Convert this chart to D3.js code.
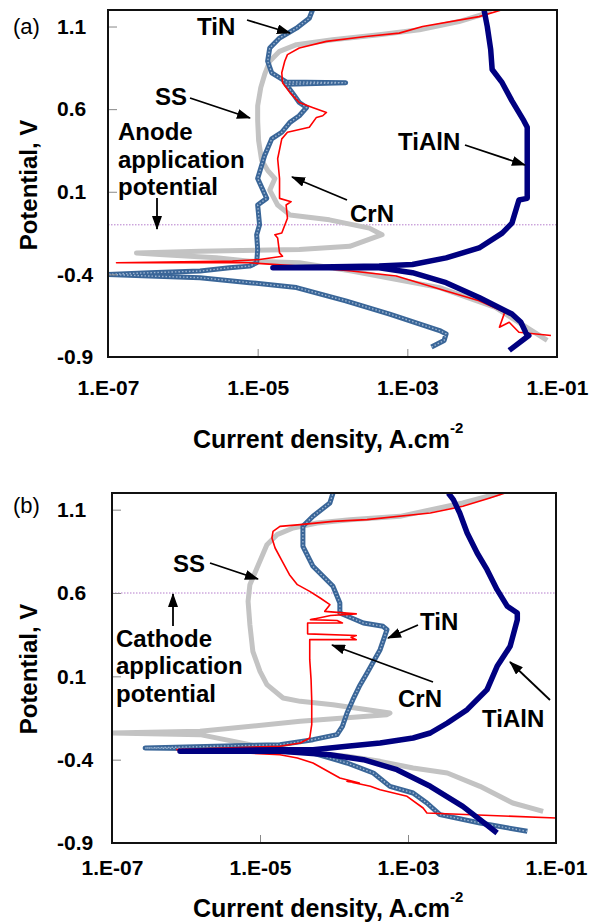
<!DOCTYPE html>
<html>
<head>
<meta charset="utf-8">
<script src="https://cdn.jsdelivr.net/npm/d3@7"></script>
<style>
body { margin: 0; background: #fff; }
svg text { font-family: "Liberation Sans", Arial, sans-serif; }
</style>
</head>
<body>
<svg id="chart" width="596" height="922"></svg>
<script>
// axis values
var xTicks = [1e-7, 1e-5, 1e-3, 1e-1];
var xTickLabels = ["1.E-07", "1.E-05", "1.E-03", "1.E-01"];
var yTicks = [-0.9, -0.4, 0.1, 0.6, 1.1];
var anodeE = -0.1;   // anode application potential, V
var cathodeE = 0.6;  // cathode application potential, V

// (a) curves: [current density A/cm2, potential V]
var ssA = [[7.4e-2,-0.80],[4.6e-2,-0.74],[1.5e-2,-0.60],[2.7e-3,-0.48],[1.8e-4,-0.38],[3.6e-5,-0.33],[7.8e-6,-0.32],
  [2.8e-6,-0.30],[4.9e-7,-0.28],[2.4e-7,-0.27],[1.7e-6,-0.26],[3.6e-5,-0.25],[1.7e-4,-0.23],[4.6e-4,-0.16],[3.1e-4,-0.12],
  [9.1e-5,-0.07],[2.7e-5,-0.04],[1.85e-5,0.02],[1.45e-5,0.11],[1.7e-5,0.18],[1.36e-5,0.23],[1.13e-5,0.29],[1.03e-5,0.41],
  [1.0e-5,0.53],[1.0e-5,0.62],[1.1e-5,0.73],[1.24e-5,0.81],[1.45e-5,0.89],[1.96e-5,0.95],[3.3e-5,0.99],[1.0e-4,1.02],
  [4.2e-4,1.05],[1.45e-3,1.08],[4.9e-3,1.13],[1.13e-2,1.18],[1.3e-2,1.2]];
var tinA = [[2.1e-3,-0.84],[3.1e-3,-0.80],[3.3e-3,-0.76],[2.7e-3,-0.74],[5.8e-4,-0.64],[1.5e-4,-0.56],[3.3e-5,-0.48],
  [7.8e-6,-0.45],[1.7e-6,-0.42],[3.6e-7,-0.41],[1.0e-7,-0.40],[3.6e-7,-0.39],[1.7e-6,-0.38],[4.2e-6,-0.36],[7.8e-6,-0.35],
  [9.7e-6,-0.33],[1.0e-5,-0.25],[9.7e-6,-0.16],[1.06e-5,-0.10],[1.0e-5,0.02],[1.32e-5,0.06],[1.0e-5,0.18],[1.24e-5,0.32],
  [1.54e-5,0.42],[2.1e-5,0.46],[2.7e-5,0.52],[3.6e-5,0.56],[4.5e-5,0.61],[3.6e-5,0.64],[2.9e-5,0.70],[2.4e-5,0.75],
  [1.5e-4,0.76],[2.4e-5,0.765],[1.96e-5,0.79],[1.54e-5,0.82],[1.36e-5,0.89],[1.45e-5,0.97],[1.96e-5,1.03],[3.3e-5,1.09],
  [4.9e-5,1.15],[5.4e-5,1.2]];
var crnA = [[8.3e-2,-0.77],[3.1e-2,-0.75],[2.3e-2,-0.69],[1.7e-2,-0.72],[2.0e-2,-0.63],[9.1e-3,-0.56],[3.3e-3,-0.50],
  [7.1e-4,-0.41],[1.8e-4,-0.38],[3.6e-5,-0.35],[7.8e-6,-0.33],[1.3e-7,-0.33],[4.6e-6,-0.32],[1.06e-5,-0.31],[2.15e-5,-0.29],
  [1.96e-5,-0.27],[1.85e-5,-0.18],[1.7e-5,-0.16],[2.1e-5,-0.15],[2.5e-5,-0.06],[2.4e-5,0.02],[2.8e-5,0.04],[1.96e-5,0.06],
  [1.96e-5,0.18],[1.85e-5,0.30],[2.1e-5,0.42],[2.5e-5,0.46],[4.9e-5,0.49],[6.1e-5,0.55],[7.4e-5,0.56],[8.3e-5,0.58],
  [5.4e-5,0.61],[3.6e-5,0.64],[2.7e-5,0.70],[2.15e-5,0.76],[2.1e-5,0.82],[2.3e-5,0.89],[2.5e-5,0.93],[3.6e-5,0.97],
  [8.3e-5,1.01],[2.8e-4,1.04],[7.8e-4,1.06],[1.6e-3,1.10],[9.1e-3,1.16],[1.8e-2,1.2]];
var tialnA = [[2.3e-2,-0.86],[4.2e-2,-0.77],[3.9e-2,-0.76],[3.3e-2,-0.69],[2.5e-2,-0.64],[9.1e-3,-0.54],[3.3e-3,-0.45],
  [1.17e-3,-0.39],[4.2e-4,-0.36],[1.6e-5,-0.36],[4.2e-4,-0.35],[1.17e-3,-0.34],[3.3e-3,-0.30],[9.1e-3,-0.24],[1.85e-2,-0.15],
  [2.5e-2,-0.09],[3.1e-2,0.05],[4.0e-2,0.06],[4.0e-2,0.15],[4.0e-2,0.49],[3.6e-2,0.53],[2.5e-2,0.65],[1.85e-2,0.76],
  [1.36e-2,0.84],[1.3e-2,0.96],[1.17e-2,1.10],[1.06e-2,1.2]];

// (b) curves
var ssB = [[6.7e-2,-0.71],[2.6e-2,-0.66],[9.4e-3,-0.56],[3.4e-3,-0.48],[1.17e-3,-0.45],[4.2e-4,-0.41],[1.5e-4,-0.38],
  [5.2e-5,-0.36],[1.86e-5,-0.35],[7.3e-6,-0.31],[1.55e-6,-0.25],[1.0e-7,-0.24],[1.55e-6,-0.23],[3.5e-5,-0.17],[5.2e-4,-0.13],
  [5.7e-4,-0.12],[9.7e-5,-0.07],[3.5e-5,-0.05],[2.05e-5,-0.03],[1.24e-5,0.05],[1.0e-5,0.13],[8.0e-6,0.25],[7.3e-6,0.41],
  [6.9e-6,0.55],[7.3e-6,0.65],[9.1e-6,0.75],[1.24e-5,0.89],[1.7e-5,0.95],[2.8e-5,0.99],[5.9e-5,1.02],[1.64e-4,1.04],
  [7.8e-4,1.06],[5.5e-3,1.14],[1.75e-2,1.2]];
var tinB = [[4.1e-2,-0.83],[9.4e-3,-0.78],[2.7e-3,-0.73],[1.8e-3,-0.66],[1.17e-3,-0.60],[5.7e-4,-0.56],[3.4e-4,-0.48],
  [1.5e-4,-0.42],[5.2e-5,-0.36],[1.86e-5,-0.34],[2.8e-7,-0.33],[1.86e-5,-0.31],[5.2e-5,-0.28],[1.1e-4,-0.25],[1.3e-4,-0.20],
  [1.5e-4,-0.12],[1.8e-4,-0.04],[2.2e-4,0.04],[2.8e-4,0.12],[4.2e-4,0.26],[5.2e-4,0.38],[4.6e-4,0.40],[2.5e-4,0.42],
  [1.2e-4,0.48],[1.2e-4,0.54],[9.7e-5,0.64],[5.2e-5,0.76],[3.8e-5,0.88],[3.8e-5,1.00],[5.2e-5,1.06],[8.8e-5,1.14],[9.7e-5,1.2]];
var crnB = [[1.0e-1,-0.75],[1.8e-3,-0.72],[1.6e-3,-0.69],[9.7e-4,-0.62],[4.2e-4,-0.58],[3.1e-4,-0.56],[1.5e-4,-0.53],
  [2.2e-4,-0.54],[1.2e-4,-0.51],[5.2e-5,-0.42],[3.2e-5,-0.39],[1.86e-5,-0.37],[7.5e-7,-0.34],[1.86e-5,-0.32],[3.5e-5,-0.30],
  [4.7e-5,-0.27],[5.0e-5,-0.19],[5.0e-5,-0.04],[4.9e-5,0.08],[4.7e-5,0.20],[4.7e-5,0.32],[2.0e-4,0.32],[1.7e-4,0.335],
  [2.0e-4,0.345],[4.4e-5,0.355],[4.4e-5,0.42],[1.3e-4,0.42],[1.1e-4,0.435],[4.8e-5,0.44],[9e-5,0.465],[2.0e-4,0.475],
  [7.5e-5,0.49],[8.8e-5,0.53],[6.5e-5,0.57],[4.7e-5,0.61],[3.2e-5,0.65],[2.5e-5,0.71],[2.0e-5,0.79],[1.6e-5,0.87],
  [1.45e-5,0.93],[1.5e-5,0.97],[1.86e-5,1.0],[3.5e-5,1.01],[9.7e-5,1.03],[2.8e-4,1.04],[2.0e-3,1.08],[5.5e-3,1.12],
  [1.28e-2,1.17],[2.05e-2,1.2]];
var tialnB = [[1.6e-2,-0.84],[9.4e-3,-0.76],[5.5e-3,-0.68],[2.0e-3,-0.56],[7.1e-4,-0.46],[2.5e-4,-0.40],[8.8e-5,-0.37],
  [1.86e-5,-0.35],[8.3e-7,-0.35],[1.86e-5,-0.34],[5.2e-5,-0.34],[1.5e-4,-0.32],[4.2e-4,-0.30],[1.17e-3,-0.27],[2.0e-3,-0.24],
  [3.4e-3,-0.18],[6.3e-3,-0.10],[1.17e-2,0.02],[1.6e-2,0.16],[2.4e-2,0.28],[3.0e-2,0.44],[3.0e-2,0.48],[2.2e-2,0.52],
  [1.6e-2,0.62],[1.17e-2,0.74],[8.6e-3,0.84],[6.3e-3,0.96],[5.0e-3,1.08],[4.1e-3,1.16],[3.5e-3,1.2]];

var svg = d3.select("#chart");

svg.append("defs").append("marker")
    .attr("id", "arrow")
    .attr("markerUnits", "userSpaceOnUse")
    .attr("markerWidth", 14).attr("markerHeight", 10)
    .attr("refX", 13).attr("refY", 5)
    .attr("orient", "auto")
  .append("path")
    .attr("d", "M0,0 L14,5 L0,10 Z")
    .attr("fill", "#000");

var panels = [
  { id: "a", left: 108, top: 10, w: 449, h: 347, xPad: 23, tag: "(a)", tagY: 34, refE: anodeE,
    ss: ssA, tin: tinA, crn: crnA, tialn: tialnA, titleY: 448, yTitleY: 185,
    labels: [["TiN", 197, 35], ["SS", 155, 105], ["Anode", 118, 140], ["application", 118, 168], ["potential", 118, 195],
             ["CrN", 350, 222], ["TiAlN", 398, 150]],
    arrows: [[247, 20, 290, 33], [190, 98, 250, 118], [157, 198, 157, 229], [347, 200, 292, 177], [465, 145, 525, 165]] },
  { id: "b", left: 112, top: 493, w: 444, h: 350, xPad: 17, tag: "(b)", tagY: 513, refE: cathodeE,
    ss: ssB, tin: tinB, crn: crnB, tialn: tialnB, titleY: 917, yTitleY: 669,
    labels: [["SS", 173, 572], ["Cathode", 116, 647], ["application", 116, 674], ["potential", 116, 702],
             ["TiN", 420, 630], ["CrN", 398, 707], ["TiAlN", 482, 727]],
    arrows: [[210, 563, 258, 579], [173, 626, 173, 594], [418, 625, 388, 638], [433, 682, 332, 645], [550, 700, 510, 662]] }
];

panels.forEach(function(p) {
  var x = d3.scaleLog().domain([1e-7, 1e-1]).range([p.left, p.left + p.w]);
  var y = d3.scaleLinear().domain([-0.9, 1.2]).range([p.top + p.h, p.top]);

  svg.select("defs").append("clipPath").attr("id", "clip-" + p.id)
    .append("rect").attr("x", p.left).attr("y", p.top).attr("width", p.w).attr("height", p.h);

  var g = svg.append("g").attr("clip-path", "url(#clip-" + p.id + ")");

  // application potential line
  g.append("line")
    .attr("x1", x(1e-7)).attr("x2", x(1e-1))
    .attr("y1", y(p.refE)).attr("y2", y(p.refE))
    .attr("stroke", "#b57ccc").attr("stroke-width", 1)
    .attr("stroke-dasharray", "1.5,1.5");

  var line = d3.line().x(function(d) { return x(d[0]); }).y(function(d) { return y(d[1]); });

  g.append("path").attr("d", line(p.ss)).attr("fill", "none")
    .attr("stroke", "#c3c3c3").attr("stroke-width", 5).attr("stroke-linejoin", "round");
  g.append("path").attr("d", line(p.tin)).attr("fill", "none")
    .attr("stroke", "#3a6698").attr("stroke-width", 5).attr("stroke-linejoin", "round");
  g.append("path").attr("d", line(p.tin)).attr("fill", "none")
    .attr("stroke", "#9fb6d2").attr("stroke-width", 1.4).attr("stroke-dasharray", "1.5,2");
  g.append("path").attr("d", line(p.crn)).attr("fill", "none")
    .attr("stroke", "#ff0000").attr("stroke-width", 1.6).attr("stroke-linejoin", "round");
  g.append("path").attr("d", line(p.tialn)).attr("fill", "none")
    .attr("stroke", "#000080").attr("stroke-width", 5.5).attr("stroke-linejoin", "round");

  // axes
  var yAxis = svg.append("g").attr("transform", "translate(" + p.left + ",0)")
    .call(d3.axisLeft(y).tickValues(yTicks).tickSize(-9).tickPadding(0)
      .tickFormat(function(d) { return d.toFixed(1); }));
  yAxis.select(".domain").remove();
  yAxis.selectAll("line").attr("stroke", "#888");
  yAxis.selectAll("text").attr("text-anchor", "start").attr("x", 57 - p.left)
    .attr("font-size", 21).attr("font-weight", "bold").attr("fill", "#000")
    .style("font-family", '"Liberation Sans", Arial, sans-serif');

  var xAxis = svg.append("g").attr("transform", "translate(0," + (p.top + p.h) + ")")
    .call(d3.axisBottom(x).tickValues(xTicks).tickSize(-8).tickPadding(p.xPad)
      .tickFormat(function(d, i) { return xTickLabels[i]; }));
  xAxis.select(".domain").remove();
  xAxis.selectAll("line").attr("stroke", "#888");
  xAxis.selectAll("text").attr("font-size", 21).attr("font-weight", "bold").attr("fill", "#000")
    .style("font-family", '"Liberation Sans", Arial, sans-serif');

  // frame
  svg.append("rect").attr("x", p.left).attr("y", p.top).attr("width", p.w).attr("height", p.h)
    .attr("fill", "none").attr("stroke", "#111").attr("stroke-width", 2);

  // titles
  svg.append("text").attr("transform", "translate(37," + p.yTitleY + ") rotate(-90)")
    .attr("text-anchor", "middle").attr("font-size", 24).attr("font-weight", "bold")
    .text("Potential, V");
  var xt = svg.append("text").attr("x", 193).attr("y", p.titleY)
    .attr("font-size", 25).attr("font-weight", "bold");
  xt.append("tspan").text("Current density, A.cm");
  xt.append("tspan").attr("font-size", 15).attr("dy", -15).text("-2");

  svg.append("text").attr("x", 13).attr("y", p.tagY).attr("font-size", 22).text(p.tag);

  // annotations
  p.labels.forEach(function(l) {
    svg.append("text").attr("x", l[1]).attr("y", l[2])
      .attr("font-size", 24).attr("font-weight", "bold").text(l[0]);
  });
  p.arrows.forEach(function(a) {
    svg.append("line").attr("x1", a[0]).attr("y1", a[1]).attr("x2", a[2]).attr("y2", a[3])
      .attr("stroke", "#000").attr("stroke-width", 1.8).attr("marker-end", "url(#arrow)");
  });
});
</script>
</body>
</html>
